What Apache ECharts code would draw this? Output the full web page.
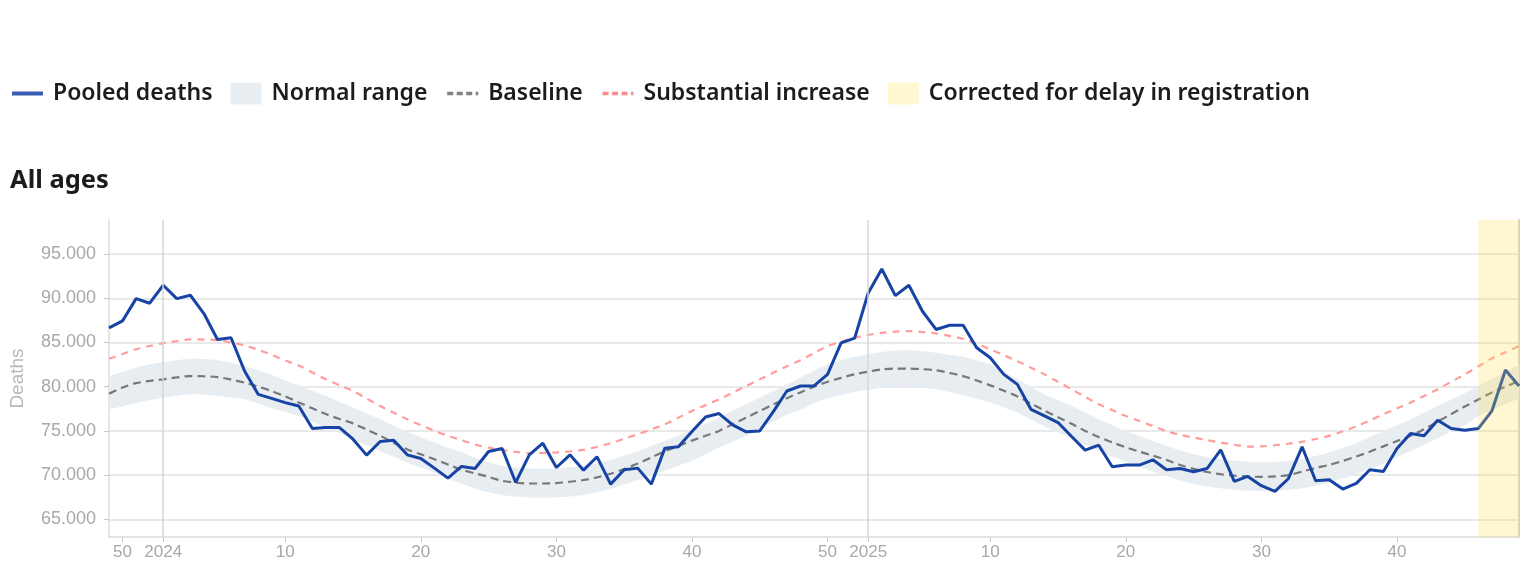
<!DOCTYPE html>
<html>
<head>
<meta charset="utf-8">
<script src="https://cdn.jsdelivr.net/npm/echarts@6/dist/echarts.min.js"></script>
<style>
html,body{margin:0;padding:0;background:#fff;}
#chart{width:1532px;height:577px;}
</style>
</head>
<body>
<div id="chart"></div>
<script>
// ISO weeks shown: 2023-W49 .. 2025-W49
const yearWeeks = [[2023, 49, 52], [2024, 1, 52], [2025, 1, 49]];
const categories = [];
yearWeeks.forEach(([y, a, b]) => { for (let w = a; w <= b; w++) categories.push(y + '-W' + w); });

const pooledDeaths = [86650, 87440, 89960, 89440, 91470, 89960, 90340, 88270, 85340, 85530,
  81770, 79135, 78680, 78200, 77820, 75260, 75380, 75380, 74060, 72260,
  73800, 73950, 72290, 71880, 70790, 69660, 70980, 70750, 72670, 73010,
  69170, 72290, 73610, 70860, 72290, 70560, 72070, 68980, 70600, 70790,
  68980, 73050, 73200, 74930, 76580, 76960, 75680, 74890, 75000, 77180,
  79510, 80080, 80080, 81390, 84960, 85490, 90600, 93310, 90300, 91470,
  88530, 86470, 86950, 86950, 84400, 83270, 81390, 80260, 77440, 76690,
  75940, 74360, 72820, 73380, 70940, 71130, 71130, 71730, 70600, 70750,
  70380, 70750, 72860, 69290, 69850, 68800, 68160, 69620, 73200, 69360,
  69470, 68420, 69060, 70600, 70410, 73010, 74700, 74440, 76200, 75260,
  75080, 75260, 77260, 81880, 80080];

const baseline = [79200, 79900, 80400, 80650, 80830, 81050, 81200, 81180, 81090, 80800,
  80450, 80000, 79500, 78900, 78200, 77550, 76900, 76350, 75850, 75150,
  74450, 73650, 72900, 72350, 71800, 71200, 70600, 70200, 69800, 69350,
  69150, 69050, 69050, 69100, 69250, 69450, 69750, 70150, 70700, 71300,
  72000, 72700, 73300, 73900, 74450, 75000, 75750, 76500, 77250, 78000,
  78700, 79350, 80000, 80550, 81000, 81400, 81700, 81950, 82050, 82050,
  81980, 81850, 81550, 81200, 80700, 80150, 79550, 78900, 78100, 77300,
  76550, 75800, 75000, 74300, 73700, 73150, 72650, 72200, 71700, 71150,
  70700, 70350, 70100, 69950, 69850, 69800, 69850, 70000, 70400, 70800,
  71150, 71600, 72100, 72650, 73250, 73850, 74450, 75200, 76050, 76900,
  77750, 78550, 79350, 80000, 80650];

const normalUpper = [81200, 81700, 82150, 82500, 82780, 83000, 83150, 83120, 83000, 82700,
  82330, 81850, 81350, 80700, 80150, 79550, 78950, 78300, 77650, 76980,
  76320, 75600, 74900, 74280, 73680, 73100, 72600, 71950, 71450, 71050,
  70850, 70750, 70720, 70750, 70880, 71050, 71350, 71730, 72200, 72740,
  73300, 73870, 74480, 75110, 75800, 76500, 77250, 78000, 78750, 79500,
  80260, 81050, 81800, 82520, 83000, 83380, 83680, 83910, 84080, 84130,
  84000, 83830, 83620, 83380, 83000, 82500, 81700, 80830, 79980, 79140,
  78480, 77820, 77070, 76320, 75650, 75000, 74430, 73870, 73300, 72800,
  72370, 72050, 71800, 71620, 71500, 71470, 71500, 71620, 71800, 72150,
  72560, 73080, 73610, 74300, 75000, 75650, 76320, 77070, 77820, 78530,
  79250, 80100, 80900, 81700, 82520];

const normalLower = [77440, 77800, 78150, 78480, 78760, 78980, 79140, 79080, 78950, 78780,
  78570, 78100, 77600, 77150, 76700, 76050, 75380, 74720, 74060, 73400,
  72740, 72080, 71430, 70850, 70300, 69600, 69050, 68450, 68050, 67750,
  67580, 67480, 67460, 67480, 67580, 67740, 68050, 68420, 68930, 69470,
  69980, 70490, 71050, 71620, 72370, 73120, 73780, 74440, 75230, 76020,
  76820, 77400, 78100, 78650, 79050, 79400, 79650, 79890, 79980, 80000,
  79870, 79700, 79380, 79020, 78620, 78200, 77650, 77070, 76280, 75490,
  74820, 74140, 73440, 72740, 72120, 71500, 70940, 70380, 69900, 69420,
  68980, 68720, 68500, 68340, 68230, 68200, 68230, 68340, 68500, 68800,
  69170, 69620, 70110, 70720, 71350, 72050, 72740, 73440, 74140, 74890,
  75640, 76650, 77350, 78000, 78650];

const substantialIncrease = [83160, 83700, 84230, 84600, 84920, 85150, 85340, 85330, 85260, 85000,
  84660, 84180, 83600, 82950, 82400, 81600, 80830, 80170, 79510, 78650,
  77820, 77050, 76320, 75650, 75000, 74450, 73950, 73450, 73100, 72830,
  72620, 72490, 72500, 72560, 72680, 72860, 73200, 73610, 74100, 74620,
  75170, 75750, 76500, 77260, 77900, 78570, 79320, 80080, 80830, 81580,
  82300, 83000, 83800, 84590, 85100, 85530, 85850, 86090, 86230, 86280,
  86180, 86020, 85750, 85410, 84850, 84210, 83560, 82890, 82150, 81390,
  80550, 79700, 78850, 78010, 77350, 76690, 76120, 75560, 74950, 74550,
  74250, 73950, 73680, 73430, 73230, 73250, 73380, 73550, 73760, 74080,
  74440, 74950, 75490, 76180, 76880, 77550, 78200, 78950, 79700, 80550,
  81390, 82300, 83200, 83900, 84590];

const yTicks = [65000, 70000, 75000, 80000, 85000, 90000, 95000];
const correctedFrom = '2025-W46';
const correctedTo = '2025-W49';
const yearMarks = ['2024-W1', '2025-W1'];

const bandWidth = normalUpper.map((u, i) => u - normalLower[i]);

const weekOf = c => parseInt(c.split('-W')[1], 10);
const showTick = (idx, val) => { const w = weekOf(val); return w === 1 || w % 10 === 0; };

const axisFont = 'Liberation Sans';
const hidden = {color: 'rgba(0,0,0,0)', borderColor: 'rgba(0,0,0,0)', borderWidth: 0, opacity: 0};
const chart = echarts.init(document.getElementById('chart'), null, {renderer: 'canvas'});
chart.setOption({
  animation: false,
  textStyle: {fontFamily: 'Noto Sans'},
  title: {
    text: 'All ages', left: 10, top: 168, padding: 0,
    textStyle: {fontSize: 25.5, fontWeight: 700, color: '#1c1c1c', fontFamily: 'Noto Sans'}
  },
  legend: {
    left: 10, top: 82, padding: 0, itemWidth: 31, itemHeight: 22, itemGap: 18,
    textStyle: {fontSize: 23, fontWeight: 600, color: '#1c1c1c', fontFamily: 'Noto Sans', padding: [0, 0, 0, 5]},
    data: [
      {name: 'Pooled deaths', lineStyle: {width: 4, color: '#3a5cb6'}, itemStyle: hidden},
      {name: 'Normal range', icon: 'rect', itemStyle: {color: '#e8edf2'}},
      {name: 'Baseline', lineStyle: {width: 3.5, type: [6, 3.5], color: '#808080'}, itemStyle: hidden},
      {name: 'Substantial increase', lineStyle: {width: 3.5, type: [6, 3.5], color: '#ff8a8a'}, itemStyle: hidden},
      {name: 'Corrected for delay in registration', icon: 'rect', itemStyle: {color: '#fff7cf'}}
    ]
  },
  grid: {left: 108, right: 13, top: 220, bottom: 40, containLabel: false},
  xAxis: {
    type: 'category', data: categories, boundaryGap: false,
    axisLine: {show: true, lineStyle: {color: '#dcdcdc', width: 1.5}},
    axisTick: {show: true, interval: showTick, length: 5, lineStyle: {color: '#c8c8c8'}},
    axisLabel: {
      interval: showTick, color: '#a8a8a8', fontSize: 17, fontFamily: axisFont, margin: 7,
      formatter: v => { const w = weekOf(v); return w === 1 ? v.split('-W')[0] : String(w); }
    },
    splitLine: {show: false}
  },
  yAxis: [{
    type: 'value', min: 63000, max: 98850,
    name: 'Deaths', nameLocation: 'middle', nameGap: 82, nameRotate: 90,
    nameTextStyle: {color: '#b8b8b8', fontSize: 19, fontFamily: axisFont},
    axisLine: {show: true, lineStyle: {color: '#dcdcdc', width: 1.5}},
    axisTick: {show: true, length: 5, customValues: yTicks, lineStyle: {color: '#c8c8c8'}},
    axisLabel: {
      customValues: yTicks, color: '#a8a8a8', fontSize: 18, fontFamily: axisFont, margin: 13,
      formatter: v => Math.round(v / 1000) + '.000'
    },
    splitLine: {show: true, lineStyle: {color: '#e2e2e2', width: 1.5}}
  }, {
    type: 'value', min: 63000, max: 98850, position: 'right',
    axisLine: {show: true, lineStyle: {color: '#d4d4d4', width: 2}},
    axisTick: {show: false}, axisLabel: {show: false}, splitLine: {show: false}
  }],
  series: [
    {
      name: 'lowerBound', type: 'line', data: normalLower, stack: 'band', smooth: 0.3,
      symbol: 'none', lineStyle: {width: 0, opacity: 0}, silent: true, z: 1,
      markLine: {
        silent: true, symbol: 'none', label: {show: false},
        lineStyle: {color: '#d6d6d6', width: 1.5, type: 'solid'},
        data: yearMarks.map(c => ({xAxis: c}))
      }
    },
    {
      name: 'Normal range', type: 'line', data: bandWidth, stack: 'band', smooth: 0.3,
      symbol: 'none', color: '#e8edf2', lineStyle: {width: 0, opacity: 0},
      areaStyle: {color: '#e8edf2', opacity: 1}, silent: true, z: 1
    },
    {
      name: 'Baseline', type: 'line', data: baseline, smooth: 0.3, symbol: 'none',
      color: '#777777', lineStyle: {color: '#777777', width: 2.2, type: [8, 5]}, z: 2
    },
    {
      name: 'Substantial increase', type: 'line', data: substantialIncrease, smooth: 0.3, symbol: 'none',
      color: '#ff9c9c', lineStyle: {color: '#ff9c9c', width: 2.2, type: [7, 6]}, z: 2
    },
    {
      name: 'Pooled deaths', type: 'line', data: pooledDeaths, symbol: 'none',
      color: '#1744a4', lineStyle: {color: '#1744a4', width: 3}, z: 3
    },
    {
      name: 'Corrected for delay in registration', type: 'line', data: [], symbol: 'none',
      color: '#fff7cf', z: 10,
      markArea: {
        silent: true, z: 10,
        itemStyle: {color: 'rgba(255,222,70,0.25)'},
        data: [[{xAxis: correctedFrom}, {xAxis: correctedTo}]]
      }
    }
  ]
});
</script>
</body>
</html>
